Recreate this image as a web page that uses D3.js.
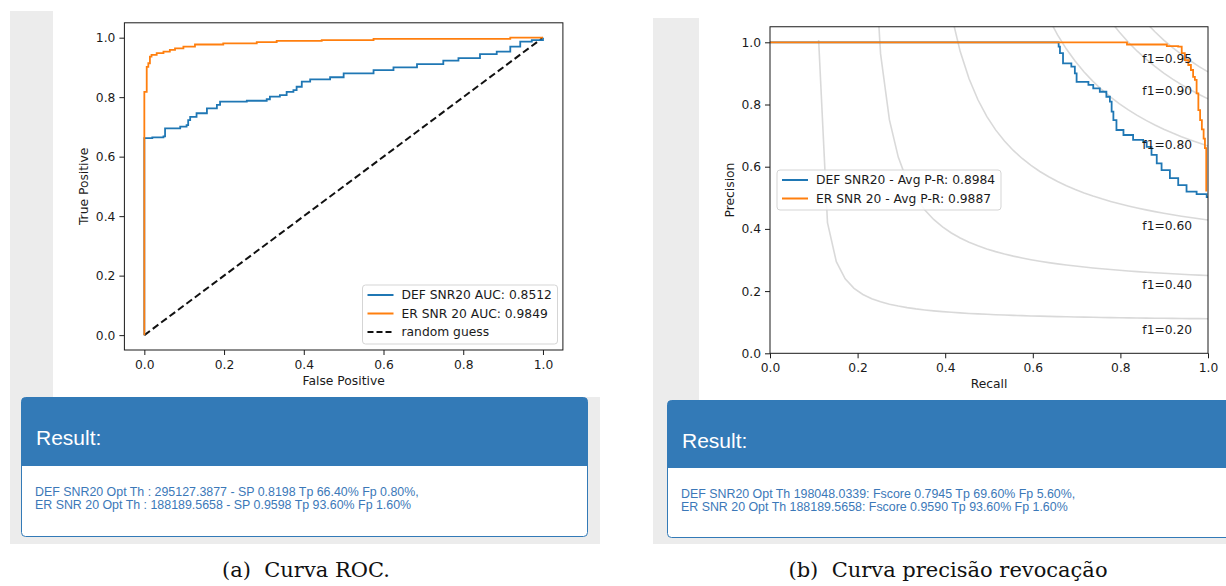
<!DOCTYPE html>
<html>
<head>
<meta charset="utf-8">
<script src="https://cdn.jsdelivr.net/npm/d3@7"></script>
<style>
  body { margin: 0; background: #ffffff; }
  svg { display: block; }
  .tick text { font-family: "DejaVu Sans", sans-serif; font-size: 12.3px; fill: #1a1a1a; }
  .tick line { stroke: #1a1a1a; }
</style>
</head>
<body>
<svg id="fig" width="1226" height="586"></svg>
<script>
// ---- data ----
const tickValues = [0, 0.2, 0.4, 0.6, 0.8, 1.0];

// ROC: DEF SNR20 (blue)
const defRocFpr = [0, 0, 0.02, 0.048, 0.052, 0.09, 0.106, 0.11, 0.115, 0.131, 0.157, 0.182, 0.19, 0.257, 0.307, 0.315, 0.34, 0.357, 0.374, 0.382, 0.395, 0.416, 0.466, 0.5, 0.575, 0.625, 0.684, 0.75, 0.788, 0.842, 0.884, 0.918, 0.943, 0.972, 1];
const defRocTpr = [0, 0.662, 0.665, 0.668, 0.695, 0.701, 0.706, 0.723, 0.734, 0.746, 0.762, 0.774, 0.785, 0.788, 0.793, 0.802, 0.807, 0.818, 0.824, 0.835, 0.852, 0.86, 0.867, 0.88, 0.891, 0.9, 0.911, 0.923, 0.931, 0.945, 0.953, 0.97, 0.987, 0.992, 1];
// ROC: ER SNR 20 (orange)
const erRocFpr = [0, 0, 0.006, 0.01, 0.014, 0.018, 0.031, 0.048, 0.064, 0.077, 0.098, 0.127, 0.198, 0.282, 0.332, 0.445, 0.575, 0.918, 1];
const erRocTpr = [0, 0.818, 0.902, 0.914, 0.936, 0.942, 0.948, 0.953, 0.959, 0.964, 0.97, 0.977, 0.981, 0.985, 0.989, 0.992, 0.996, 1, 1];

// Precision-recall: DEF SNR20 (blue)
const defPrRecall = [0, 0.651, 0.659, 0.662, 0.669, 0.688, 0.696, 0.7, 0.727, 0.738, 0.753, 0.768, 0.776, 0.78, 0.784, 0.791, 0.807, 0.829, 0.852, 0.86, 0.871, 0.883, 0.894, 0.913, 0.932, 0.951, 0.974, 0.997, 1];
const defPrPrecision = [1, 1, 0.986, 0.965, 0.932, 0.922, 0.9, 0.873, 0.863, 0.852, 0.841, 0.825, 0.809, 0.777, 0.75, 0.718, 0.702, 0.686, 0.68, 0.664, 0.638, 0.611, 0.589, 0.563, 0.541, 0.52, 0.512, 0.502, 0.5];
// Precision-recall: ER SNR 20 (orange)
const erPrRecall = [0, 0.811, 0.815, 0.906, 0.932, 0.94, 0.947, 0.955, 0.961, 0.966, 0.97, 0.974, 0.978, 0.982, 0.986, 0.99, 0.993, 0.996, 0.996];
const erPrPrecision = [1, 1, 0.993, 0.988, 0.986, 0.965, 0.943, 0.927, 0.911, 0.889, 0.879, 0.836, 0.782, 0.75, 0.72, 0.69, 0.66, 0.637, 0.52];

const f1Scores = [0.2, 0.4, 0.6, 0.8, 0.9, 0.95];

const rocLegend = ["DEF SNR20 AUC: 0.8512", "ER SNR 20 AUC: 0.9849", "random guess"];
const prLegend = ["DEF SNR20 - Avg P-R: 0.8984", "ER SNR 20 - Avg P-R: 0.9887"];

const rocResult = [
  "DEF SNR20 Opt Th : 295127.3877 - SP 0.8198 Tp 66.40% Fp 0.80%,",
  "ER SNR 20 Opt Th : 188189.5658 - SP 0.9598 Tp 93.60% Fp 1.60%"
];
const prResult = [
  "DEF SNR20 Opt Th 198048.0339: Fscore 0.7945 Tp 69.60% Fp 5.60%,",
  "ER SNR 20 Opt Th 188189.5658: Fscore 0.9590 Tp 93.60% Fp 1.60%"
];
const captions = ["(a)  Curva ROC.", "(b)  Curva precisão revocação"];

const BLUE = "#1f77b4", ORANGE = "#ff7f0e";
const fmt = d3.format(".1f");
const font = "DejaVu Sans, sans-serif";
const fontSize = 12.3;

const svg = d3.select("#fig");

// ---- screenshot backgrounds ----
function backdrop(x, y, w, h, imgX, imgBottom) {
  svg.append("rect").attr("x", x).attr("y", y).attr("width", w).attr("height", h).attr("fill", "#ececec");
  svg.append("rect").attr("x", imgX).attr("y", y).attr("width", x + w - imgX).attr("height", imgBottom - y).attr("fill", "#ffffff");
}
backdrop(10, 11, 590, 533, 53, 397);
backdrop(653, 18, 573, 526, 699, 400);

// ---- bootstrap-like result panels ----
function resultPanel(x, y, w, h, headH, lines) {
  const g = svg.append("g");
  g.append("rect").attr("x", x + 0.5).attr("y", y + 0.5).attr("width", w).attr("height", h)
    .attr("rx", 4).attr("fill", "#ffffff").attr("stroke", "#337ab7");
  g.append("path")
    .attr("d", `M${x + 0.5},${y + headH} V${y + 4.5} Q${x + 0.5},${y + 0.5} ${x + 4.5},${y + 0.5} H${x + w - 3.5} Q${x + w + 0.5},${y + 0.5} ${x + w + 0.5},${y + 4.5} V${y + headH} Z`)
    .attr("fill", "#337ab7");
  g.append("text").attr("x", x + 15).attr("y", y + 48)
    .attr("font-family", "Liberation Sans, Arial, sans-serif").attr("font-size", 21)
    .attr("fill", "#ffffff").text("Result:");
  g.selectAll("text.line").data(lines).enter().append("text")
    .attr("class", "line")
    .attr("x", x + 14)
    .attr("y", (d, i) => y + headH + 30 + i * 13)
    .attr("font-family", "Liberation Sans, Arial, sans-serif").attr("font-size", 12.4)
    .attr("fill", "#3b78b8")
    .text(d => d);
}
resultPanel(21, 397, 566, 139, 69, rocResult);
resultPanel(667, 400, 600, 137, 68, prResult);

// ---- captions ----
svg.selectAll("text.caption").data(captions).enter().append("text")
  .attr("class", "caption")
  .attr("x", (d, i) => i === 0 ? 306 : 948)
  .attr("y", 577)
  .attr("text-anchor", "middle")
  .attr("font-family", "DejaVu Serif, serif").attr("font-size", 21)
  .attr("fill", "#111")
  .style("white-space", "pre")
  .text(d => d);

// ---- generic axes ----
function drawAxes(x, y, xLabel, yLabel, labelPad) {
  const [x0, x1] = x.range(), [y0, y1] = y.range();
  const gx = svg.append("g").attr("transform", `translate(0,${y0})`)
    .call(d3.axisBottom(x).tickValues(tickValues).tickFormat(fmt).tickSize(5).tickPadding(labelPad));
  gx.select(".domain").remove();
  const gy = svg.append("g").attr("transform", `translate(${x0},0)`)
    .call(d3.axisLeft(y).tickValues(tickValues).tickFormat(fmt).tickSize(5).tickPadding(4));
  gy.select(".domain").remove();

  svg.append("text").attr("x", (x0 + x1) / 2).attr("y", y0 + 35)
    .attr("text-anchor", "middle").attr("font-family", font).attr("font-size", fontSize).attr("fill", "#1a1a1a")
    .text(xLabel);
  svg.append("text")
    .attr("transform", `translate(${x0 - 36},${(y0 + y1) / 2}) rotate(-90)`)
    .attr("text-anchor", "middle").attr("font-family", font).attr("font-size", fontSize).attr("fill", "#1a1a1a")
    .text(yLabel);
}

function frame(x, y) {
  const [x0, x1] = x.range(), [y0, y1] = y.range();
  svg.append("rect").attr("x", x0).attr("y", y1).attr("width", x1 - x0).attr("height", y0 - y1)
    .attr("fill", "none").attr("stroke", "#1a1a1a").attr("stroke-width", 1);
}

function legend(x, y, w, h, items) {
  const g = svg.append("g").attr("transform", `translate(${x},${y})`);
  g.append("rect").attr("width", w).attr("height", h).attr("rx", 3)
    .attr("fill", "#ffffff").attr("fill-opacity", 0.85).attr("stroke", "#d5d5d5");
  const row = g.selectAll("g.item").data(items).enter().append("g")
    .attr("transform", (d, i) => `translate(0,${10 + i * 18.5})`);
  row.append("line").attr("x1", 5).attr("x2", 31)
    .attr("stroke", d => d.color).attr("stroke-width", 2)
    .attr("stroke-dasharray", d => d.dash || null);
  row.append("text").attr("x", 39).attr("dy", "0.35em")
    .attr("font-family", font).attr("font-size", fontSize).attr("fill", "#1a1a1a")
    .text(d => d.label);
}

// ---- (a) ROC chart ----
const xRoc = d3.scaleLinear().domain([-0.05, 1.05]).range([124.4, 562.9]);
const yRoc = d3.scaleLinear().domain([-0.05, 1.05]).range([350, 22.8]);

drawAxes(xRoc, yRoc, "False Positive", "True Positive", 5.5);

const rocLine = d3.line().x(d => xRoc(d[0])).y(d => yRoc(d[1])).curve(d3.curveStepAfter);

svg.append("line")
  .attr("x1", xRoc(0)).attr("y1", yRoc(0)).attr("x2", xRoc(1)).attr("y2", yRoc(1))
  .attr("stroke", "#111").attr("stroke-width", 2).attr("stroke-dasharray", "7,3.5");

svg.append("path").datum(d3.zip(defRocFpr, defRocTpr))
  .attr("d", rocLine).attr("fill", "none").attr("stroke", BLUE).attr("stroke-width", 1.8);
svg.append("path").datum(d3.zip(erRocFpr, erRocTpr))
  .attr("d", rocLine).attr("fill", "none").attr("stroke", ORANGE).attr("stroke-width", 1.8);

frame(xRoc, yRoc);
legend(362.5, 285, 195, 59, [
  { label: rocLegend[0], color: BLUE },
  { label: rocLegend[1], color: ORANGE },
  { label: rocLegend[2], color: "#111", dash: "6,3" }
]);

// ---- (b) precision-recall chart ----
const xPr = d3.scaleLinear().domain([0, 1]).range([770, 1208]);
const yPr = d3.scaleLinear().domain([0, 1.05]).range([353.3, 26.75]);

drawAxes(xPr, yPr, "Recall", "Precision", 4.5);

svg.append("clipPath").attr("id", "prClip").append("rect")
  .attr("x", 770).attr("y", 26.75).attr("width", 438).attr("height", 353.3 - 26.75);

// iso-F1 guide curves: precision = f*r / (2r - f)
const recallGrid = d3.range(50).map(i => 0.01 + i * 0.99 / 49);
const isoLine = d3.line().x(d => xPr(d[0])).y(d => yPr(d[1]));
const iso = svg.append("g").attr("clip-path", "url(#prClip)");
f1Scores.forEach(f => {
  const pts = recallGrid.map(r => [r, f * r / (2 * r - f)]).filter(p => p[1] >= 0);
  iso.append("path").datum(pts).attr("d", isoLine)
    .attr("fill", "none").attr("stroke", "#808080").attr("stroke-opacity", 0.3).attr("stroke-width", 1.6);
});

const prLine = d3.line().x(d => xPr(d[0])).y(d => yPr(d[1])).curve(d3.curveStepAfter);
const prG = svg.append("g").attr("clip-path", "url(#prClip)");
prG.append("path").datum(d3.zip(defPrRecall, defPrPrecision))
  .attr("d", prLine).attr("fill", "none").attr("stroke", BLUE).attr("stroke-width", 1.8);
prG.append("path").datum(d3.zip(erPrRecall, erPrPrecision))
  .attr("d", prLine).attr("fill", "none").attr("stroke", ORANGE).attr("stroke-width", 1.8);

f1Scores.forEach(f => {
  const r = recallGrid[45];
  const p = f * r / (2 * r - f);
  svg.append("text").attr("x", xPr(0.85)).attr("y", yPr(p - 0.036)).attr("dy", "0.35em")
    .attr("font-family", font).attr("font-size", fontSize).attr("fill", "#1a1a1a")
    .text("f1=" + d3.format(".2f")(f));
});

frame(xPr, yPr);
legend(777, 170, 224, 40, [
  { label: prLegend[0], color: BLUE },
  { label: prLegend[1], color: ORANGE }
]);
</script>
</body>
</html>
